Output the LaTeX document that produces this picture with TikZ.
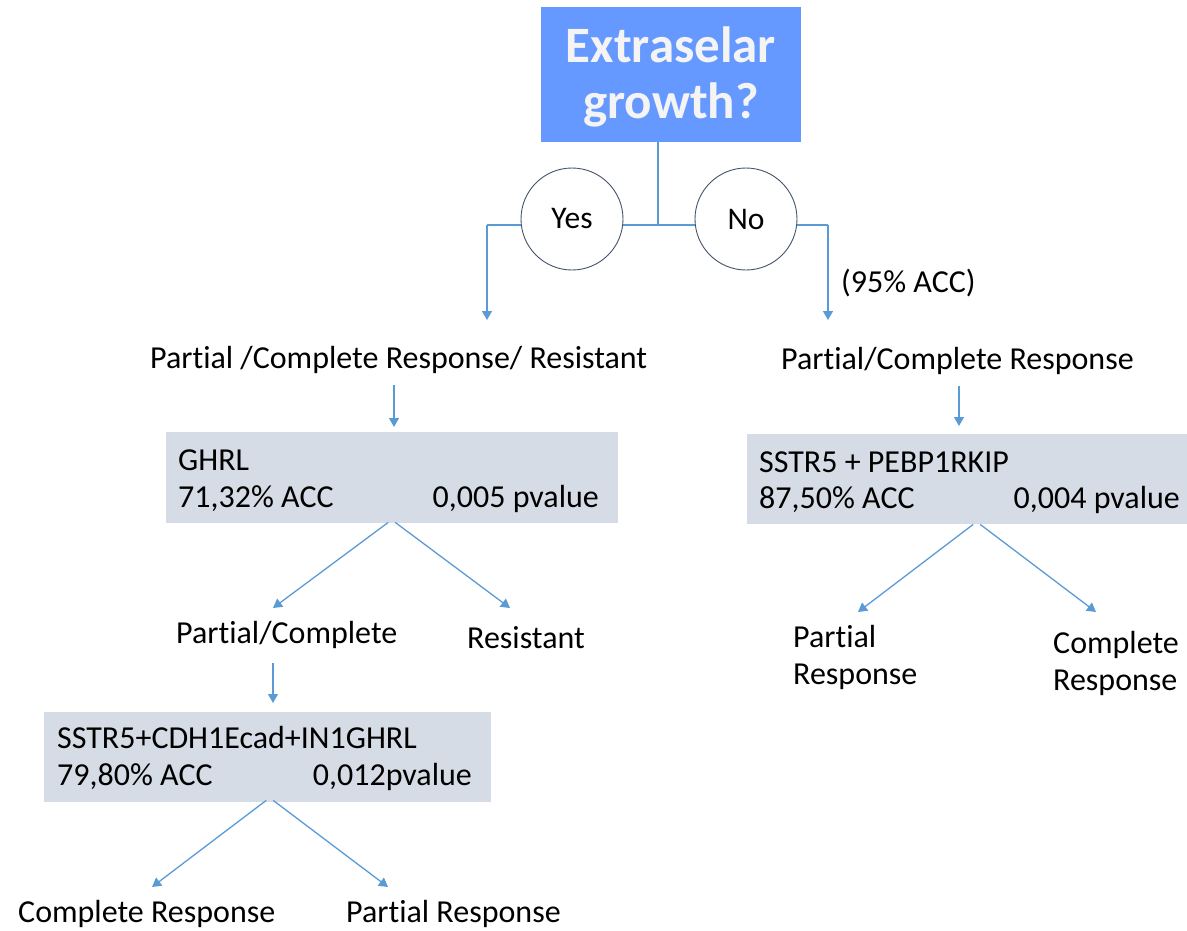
\documentclass[tikz,border=0pt]{standalone}
\usepackage{fontspec}
\setmainfont{Carlito}[Ligatures={NoCommon,NoContextual}]
\usetikzlibrary{arrows.meta}
\definecolor{connc}{HTML}{5B9BD5}
\definecolor{titlefill}{HTML}{6699FF}
\definecolor{boxfill}{HTML}{D6DCE5}
\definecolor{circc}{HTML}{44546A}
\definecolor{titletext}{HTML}{F4F4F4}
\begin{document}
\begin{tikzpicture}[x=1pt,y=-1pt,
  txt/.style={inner sep=0pt, font=\fontsize{32}{36.5}\selectfont, text=black},
  conline/.style={draw=connc, line width=1.3pt},
  arr/.style={conline, -{Triangle[width=10pt,length=9pt]}},
  gbox/.style={fill=boxfill, draw=none, inner sep=0pt, anchor=north west},
  ans/.style={circle, draw=circc, line width=0.9pt, fill=white, minimum size=102pt, inner sep=0pt, font=\fontsize{31.5}{36}\selectfont},
  ttl/.style={inner sep=0pt, text=titletext, font=\fontsize{51}{56}\selectfont\bfseries}
]
\useasboundingbox (0,0) rectangle (1187,930);

% title
\node[fill=titlefill, minimum width=260pt, minimum height=135pt, inner sep=0pt, anchor=north west] (title) at (541,7) {};
\node[ttl, anchor=base] (t1) at (671,62) {Extraselar};
\node[ttl, anchor=base] (t2) at (671,118) {growth?};

% split
\coordinate (j) at (658,225);
\coordinate (lj) at (487,225);
\coordinate (rj) at (828,225);
\coordinate (ltip) at (487,320);
\coordinate (rtip) at (828,320);
\draw[conline] (j |- title.south) -- (j);
\draw[conline] (lj) -- (rj);
\draw[arr] (lj) -- (ltip);
\draw[arr] (rj) -- (rtip);
\node[ans] (yes) at (572,219) {Yes};
\node[ans] (no) at (746,219) {No};
\node[txt, anchor=base west] (acc) at (841,292) {(95\% ACC)};

% level 1 texts
\node[txt, anchor=base west] (lresp) at (150,368) {Partial /Complete Response/ Resistant};
\node[txt, anchor=base west] (rresp) at (781,369) {Partial/Complete Response};

% boxes
\node[gbox, minimum width=452pt, minimum height=91pt] (ghrl) at (166,432) {};
\node[gbox, minimum width=440pt, minimum height=90pt] (sstr) at (747,434) {};
\node[gbox, minimum width=447pt, minimum height=90pt] (cdh) at (44,712) {};

\node[txt, anchor=base west] (g1) at (178,470) {GHRL};
\node[txt, anchor=base west] (g2) at (178,507) {71,32\% ACC};
\node[txt, anchor=base east] (g3) at (599,507) {0,005 pvalue};

\node[txt, anchor=base west] (s1) at (759,472) {SSTR5 + PEBP1RKIP};
\node[txt, anchor=base west] (s2) at (759,508) {87,50\% ACC};
\node[txt, anchor=base east] (s3) at (1180,508) {0,004 pvalue};

\node[txt, anchor=base west] (c1) at (57,748) {SSTR5+CDH1Ecad+IN1GHRL};
\node[txt, anchor=base west] (c2) at (57,785) {79,80\% ACC};
\node[txt, anchor=base east] (c3) at (472,785) {0,012pvalue};

% vertical arrows into boxes
\coordinate (a1s) at (394,385);
\coordinate (a1e) at (394,427);
\draw[arr] (a1s) -- (a1e);
\coordinate (a2s) at (959,386);
\coordinate (a2e) at (959,426);
\draw[arr] (a2s) -- (a2e);

% leaves
\node[txt, anchor=base west] (pc) at (176,643) {Partial/Complete};
\node[txt, anchor=base west] (res) at (467,648) {Resistant};
\node[txt, anchor=base west, align=left] (pr) at (793,684) {Partial\\Response};
\node[txt, anchor=base west, align=left] (cr) at (1053,690) {Complete\\Response};
\node[txt, anchor=base west] (cr2) at (18,922) {Complete Response};
\node[txt, anchor=base west] (pr2) at (346,922) {Partial Response};

% diagonal arrows
\coordinate (pcT) at (273,608);
\coordinate (resT) at (510,608);
\draw[arr] ([xshift=-4pt,yshift=1pt]ghrl.south) -- (pcT);
\draw[arr] ([xshift=3pt,yshift=1pt]ghrl.south) -- (resT);

\coordinate (prT) at (858,612);
\coordinate (crT) at (1096,612);
\draw[arr] ([xshift=6pt]sstr.south) -- (prT);
\draw[arr] ([xshift=13pt]sstr.south) -- (crT);

\coordinate (pcA) at (273,663);
\coordinate (pcB) at (273,703);
\draw[arr] (pcA) -- (pcB);

\coordinate (cr2T) at (152,887);
\coordinate (pr2T) at (388,887);
\draw[arr] ([xshift=-1.5pt,yshift=2pt]cdh.south) -- (cr2T);
\draw[arr] ([xshift=5.5pt,yshift=2pt]cdh.south) -- (pr2T);
\end{tikzpicture}
\end{document}
